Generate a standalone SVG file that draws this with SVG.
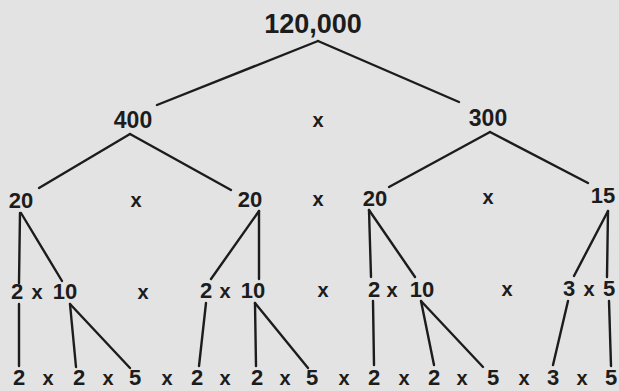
<svg xmlns="http://www.w3.org/2000/svg" width="619" height="391" viewBox="0 0 619 391">
<style>
  text { font-family: "Liberation Sans", Arial, sans-serif; font-weight: bold; fill: #1c1c1c; text-anchor: middle; }
  .r1 { font-size: 27px; }
  .r2 { font-size: 23px; }
  .r3 { font-size: 22px; }
  .op { font-size: 20px; }
  .conn line { stroke: #1c1c1c; stroke-width: 2.4; stroke-linecap: round; }
</style>
<rect x="0" y="0" width="619" height="391" fill="#e3e3e3"/>
<g class="conn" id="connectors">
  <line x1="318" y1="41" x2="157" y2="105"/>
  <line x1="318" y1="41" x2="459" y2="102"/>
  <line x1="130" y1="134" x2="39" y2="188"/>
  <line x1="130" y1="134" x2="231" y2="190"/>
  <line x1="490" y1="132" x2="389" y2="187"/>
  <line x1="490" y1="132" x2="588" y2="183"/>
  <line x1="20" y1="213" x2="19" y2="283"/>
  <line x1="21" y1="213" x2="62" y2="281"/>
  <line x1="259" y1="211" x2="211" y2="279"/>
  <line x1="259" y1="211" x2="259" y2="279"/>
  <line x1="369" y1="210" x2="371" y2="277"/>
  <line x1="369" y1="210" x2="415" y2="277"/>
  <line x1="608" y1="211" x2="574" y2="276"/>
  <line x1="608" y1="211" x2="607" y2="277"/>
  <line x1="19" y1="304" x2="19" y2="366"/>
  <line x1="70" y1="304" x2="76" y2="367"/>
  <line x1="70" y1="304" x2="130" y2="368"/>
  <line x1="206" y1="303" x2="199" y2="366"/>
  <line x1="255" y1="303" x2="256" y2="366"/>
  <line x1="255" y1="303" x2="308" y2="368"/>
  <line x1="373" y1="301" x2="374" y2="365"/>
  <line x1="421" y1="301" x2="434" y2="365"/>
  <line x1="421" y1="301" x2="483" y2="367"/>
  <line x1="568" y1="301" x2="553" y2="365"/>
  <line x1="609" y1="301" x2="611" y2="366"/>
</g>
<g id="n-120000"><text class="r1" x="313" y="33">120,000</text></g>
<g id="n-400"><text class="r2" x="133" y="128">400</text></g>
<g id="n-300"><text class="r2" x="488" y="126">300</text></g>
<g id="n-20a"><text class="r3" x="21" y="208">20</text></g>
<g id="n-20b"><text class="r3" x="250" y="207">20</text></g>
<g id="n-20c"><text class="r3" x="375" y="206">20</text></g>
<g id="n-15"><text class="r3" x="603" y="203">15</text></g>
<g id="n-2x10a"><text class="r3" x="17" y="299">2</text><text class="op" x="37" y="299">x</text><text class="r3" x="65" y="299">10</text></g>
<g id="n-2x10b"><text class="r3" x="206" y="298">2</text><text class="op" x="225" y="298">x</text><text class="r3" x="253" y="298">10</text></g>
<g id="n-2x10c"><text class="r3" x="374" y="297">2</text><text class="op" x="392" y="297">x</text><text class="r3" x="422" y="297">10</text></g>
<g id="n-3x5"><text class="r3" x="569" y="296">3</text><text class="op" x="589" y="296">x</text><text class="r3" x="609" y="296">5</text></g>
<g id="n-leaves">
  <text class="r3" x="19" y="385">2</text>
  <text class="r3" x="79" y="385">2</text>
  <text class="r3" x="135" y="385">5</text>
  <text class="r3" x="197" y="385">2</text>
  <text class="r3" x="257" y="385">2</text>
  <text class="r3" x="312" y="385">5</text>
  <text class="r3" x="374" y="385">2</text>
  <text class="r3" x="434" y="385">2</text>
  <text class="r3" x="493" y="385">5</text>
  <text class="r3" x="553" y="385">3</text>
  <text class="r3" x="611" y="385">5</text>
</g>
<g id="operators">
  <text class="op" x="318" y="127">x</text>
  <text class="op" x="136" y="207">x</text>
  <text class="op" x="318" y="206">x</text>
  <text class="op" x="488" y="204">x</text>
  <text class="op" x="143" y="299">x</text>
  <text class="op" x="323" y="297">x</text>
  <text class="op" x="507" y="296">x</text>
  <text class="op" x="48" y="385">x</text>
  <text class="op" x="108" y="385">x</text>
  <text class="op" x="167" y="385">x</text>
  <text class="op" x="225" y="385">x</text>
  <text class="op" x="285" y="385">x</text>
  <text class="op" x="344" y="385">x</text>
  <text class="op" x="404" y="385">x</text>
  <text class="op" x="462" y="385">x</text>
  <text class="op" x="524" y="385">x</text>
  <text class="op" x="582" y="385">x</text>
</g>
</svg>
